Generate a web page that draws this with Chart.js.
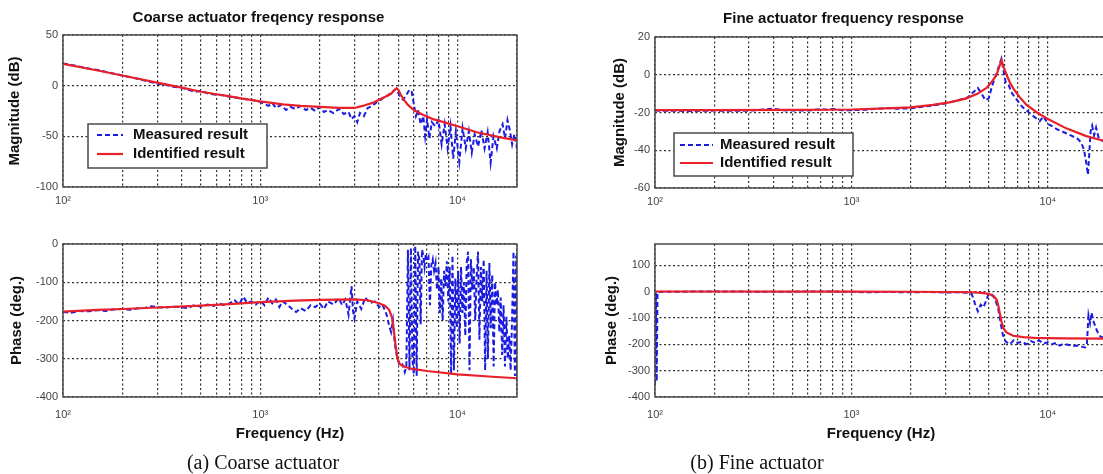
<!DOCTYPE html>
<html lang="en">
<head>
<meta charset="utf-8">
<title>Actuator frequency response</title>
<script src="https://cdn.jsdelivr.net/npm/chart.js@4.4.1/dist/chart.umd.min.js"></script>
<style>
    html, body { margin: 0; padding: 0; overflow: hidden; background: #fff; }
    body { position: relative; width: 1103px; height: 474px; }
    canvas { position: absolute; }
    .caption {
        position: absolute; top: 450px;
        font-family: "Liberation Serif", "Times New Roman", serif;
        font-size: 20px; line-height: 24px; color: #111;
        white-space: nowrap; transform: translateX(-50%);
    }
</style>
</head>
<body>
<canvas id="coarseMag" width="580" height="215" style="left:0;top:0"></canvas>
<canvas id="coarsePhase" width="580" height="240" style="left:0;top:215px"></canvas>
<canvas id="fineMag" width="602" height="215" style="left:580px;top:0"></canvas>
<canvas id="finePhase" width="602" height="240" style="left:580px;top:215px"></canvas>
<div class="caption" style="left:263px">(a) Coarse actuator</div>
<div class="caption" style="left:757px">(b) Fine actuator</div>

<script>
// data ----------------------------------------------------------------------

const freqGrid = [100, 200, 300, 400, 500, 600, 700, 800, 900, 1000, 2000, 3000, 4000, 5000, 6000, 7000, 8000, 9000, 10000, 20000];
const decadeTicks = [100, 1000, 10000];
const decadeLabels = ['10²', '10³', '10⁴'];

const magCoarseTicks = [-100, -50, 0, 50];
const phaseCoarseTicks = [-400, -300, -200, -100, 0];
const magFineTicks = [-60, -40, -20, 0, 20];
const phaseFineTicks = [-400, -300, -200, -100, 0, 100];

// coarse actuator, magnitude
const coarseMagMeasHz = [100, 110, 120, 135, 150, 170, 200, 230, 260, 300,
    330, 360, 400, 430, 470, 500, 550, 600, 650, 700,
    760, 820, 900, 1000, 1050, 1100, 1150, 1200, 1270, 1350,
    1420, 1500, 1600, 1700, 1800, 1900, 2000, 2100, 2200, 2350,
    2500, 2650, 2800, 2900, 3000, 3100, 3200, 3350, 3500, 3700,
    3850, 4000, 4200, 4400, 4600, 4800, 4900, 5000, 5150, 5300,
    5500, 5700, 5850, 6000, 6150, 6300, 6500, 6700, 6850, 7000,
    7200, 7400, 7700, 8000, 8300, 8600, 8900, 9200, 9500, 9800,
    10200, 10600, 11000, 11400, 11800, 12200, 12700, 13200, 13700, 14200,
    14700, 15200, 15800, 16300, 16900, 17400, 17900, 18400, 18900, 19400,
    20000];
const coarseMagMeasDb = [22, 20.5, 19, 17, 15.5, 13, 10, 7.5, 5, 2,
    1, -1, -2, -4, -6, -5, -8, -9, -9.5, -11,
    -12, -13, -14, -16, -18, -20, -17, -22, -19, -24,
    -21, -23, -20, -24, -22, -25, -21, -26, -24, -27,
    -23, -28, -26, -33, -30, -36, -27, -30, -22, -20,
    -17, -15, -12, -10, -7, -4, -3, -7, -12, -14,
    -9, -4, -6, -18, -30, -24, -38, -30, -50, -33,
    -52, -36, -40, -34, -58, -38, -62, -40, -72, -45,
    -75, -42, -62, -45, -66, -48, -60, -44, -62, -46,
    -76, -50, -62, -45, -38, -52, -34, -44, -58, -48,
    -62];
const coarseMagIdHz = [100, 150, 200, 300, 400, 500, 600, 700, 800, 1000,
    1300, 1600, 2000, 2500, 3000, 3300, 3700, 4000, 4300, 4600,
    4800, 4900, 5000, 5150, 5350, 5600, 6000, 6700, 7500, 8500,
    10000, 12500, 16500, 20000];
const coarseMagIdDb = [21.5, 15, 10, 3, -2, -6, -8.5, -10.5, -12.5, -15.5,
    -18.5, -20, -21, -22, -22, -20, -17, -14, -11, -8,
    -4, -2.5, -4, -9, -14, -19, -24, -29, -33, -36,
    -40, -46, -51, -54];

// coarse actuator, phase
const coarsePhMeasHz = [100, 110, 120, 135, 150, 165, 180, 200, 220, 240,
    260, 280, 300, 330, 360, 400, 430, 460, 500, 540,
    580, 620, 660, 700, 740, 780, 820, 860, 900, 950,
    1000, 1050, 1100, 1150, 1200, 1250, 1300, 1380, 1450, 1520,
    1600, 1700, 1800, 1900, 2000, 2100, 2200, 2350, 2500, 2600,
    2700, 2800, 2900, 2950, 3000, 3100, 3250, 3400, 3600, 3800,
    4000, 4150, 4300, 4400, 4500, 4600, 4700, 4800, 4950, 5100,
    5250, 5400, 5500, 5600, 5700, 5800, 5900, 6000, 6100, 6200,
    6300, 6400, 6500, 6600, 6700, 6800, 6900, 7000, 7120, 7240,
    7360, 7480, 7600, 7730, 7860, 8000, 8130, 8260, 8400, 8540,
    8680, 8820, 8970, 9120, 9270, 9420, 9580, 9740, 9900, 10070,
    10240, 10410, 10580, 10760, 10940, 11120, 11300, 11490, 11680, 11880,
    12080, 12280, 12480, 12690, 12900, 13120, 13340, 13560, 13790, 14020,
    14250, 14490, 14730, 14980, 15230, 15480, 15740, 16000, 16270, 16540,
    16820, 17100, 17380, 17670, 17970, 18270, 18570, 18880, 19200, 19520,
    19800, 20000];
const coarsePhMeasDeg = [-178, -180, -175, -176, -173, -175, -171, -170, -172, -168,
    -167, -163, -165, -166, -164, -165, -168, -160, -164, -158,
    -162, -156, -160, -155, -147, -158, -138, -155, -150, -158,
    -148, -160, -140, -155, -145, -165, -150, -160, -170, -178,
    -168, -175, -160, -165, -155, -170, -150, -158, -142, -160,
    -145, -185, -110, -175, -195, -150, -170, -140, -155, -150,
    -165, -158, -175, -190, -215, -230, -200, -260, -300, -320,
    -315, -335, -320, -15, -330, -10, -300, -340, -5, -345,
    -20, -40, -210, -15, -30, -60, -25, -45, -35, -160,
    -55, -40, -70, -50, -120, -60, -180, -90, -200, -70,
    -110, -45, -150, -60, -340, -30, -330, -90, -220, -70,
    -260, -60, -180, -100, -240, -50, -20, -330, -40, -120,
    -60, -200, -90, -20, -250, -60, -150, -40, -330, -70,
    -300, -50, -220, -80, -320, -100, -160, -120, -230, -140,
    -290, -160, -320, -190, -300, -240, -330, -200, -20, -345,
    -30, -340];
const coarsePhIdHz = [100, 150, 200, 300, 500, 700, 1000, 1500, 2000, 3000,
    3500, 4000, 4300, 4500, 4650, 4750, 4850, 4950, 5100, 5400,
    5800, 7000, 10000, 15000, 20000];
const coarsePhIdDeg = [-177, -172, -170, -166, -161, -157, -152, -148, -146, -145,
    -147, -155, -162, -172, -192, -225, -265, -298, -314, -321,
    -326, -332, -341, -347, -351];

// fine actuator, magnitude
const fineMagMeasHz = [100, 150, 200, 300, 400, 450, 500, 600, 700, 750,
    800, 900, 1000, 1200, 1500, 1700, 2000, 2500, 3000, 3500,
    3900, 4200, 4400, 4600, 4800, 5000, 5200, 5450, 5650, 5800,
    5950, 6100, 6300, 6500, 6800, 7100, 7400, 7800, 8200, 8700,
    9100, 9500, 10000, 10600, 11200, 11800, 12400, 13000, 13600, 14200,
    14800, 15300, 15700, 16000, 16200, 16500, 16800, 17200, 17600, 18200,
    19000, 20000];
const fineMagMeasDb = [-19, -19.2, -19, -19.1, -18, -18.8, -19, -19, -18.2, -18.6,
    -18.1, -18.8, -18.8, -18.5, -17.6, -18, -17.8, -16.5, -15.2, -13.5,
    -12, -9, -7, -10, -13.5, -12.5, -6, 0, 5, 8.5,
    2, -4, -5, -9, -12, -14.5, -17, -19, -21, -23,
    -24.5, -22, -26, -27.5, -29, -30, -31, -32, -33, -34,
    -36, -40, -47, -53, -44, -30, -27, -32, -28, -34,
    -35, -37];
const fineMagIdHz = [100, 200, 500, 1000, 1500, 2000, 2600, 3200, 3850, 4400,
    4870, 5200, 5480, 5650, 5810, 5950, 6160, 6400, 6660, 7200,
    7790, 8800, 9850, 12400, 15700, 19000, 20000];
const fineMagIdDb = [-18.7, -18.7, -18.6, -18.4, -17.8, -17.3, -16, -14.5, -12.5, -10,
    -7, -3.5, 0, 4, 7.7, 4, 0, -4, -7.2, -12,
    -16, -20, -23, -28.4, -32.5, -34.8, -35.5];

// fine actuator, phase
const finePhMeasHz = [100, 101, 102, 103, 110, 200, 400, 700, 1000, 1200,
    1500, 2000, 2500, 3000, 3500, 3900, 4100, 4250, 4400, 4550,
    4700, 4850, 5000, 5200, 5400, 5600, 5750, 5900, 6100, 6400,
    6700, 7000, 7400, 7800, 8200, 8600, 9000, 9500, 10000, 10500,
    11000, 11500, 12000, 12800, 13500, 14200, 15000, 15500, 15800, 16100,
    16400, 16700, 17000, 17400, 17800, 18500, 19200, 20000];
const finePhMeasDeg = [-355, -3, -340, -2, -1, 0, -1, 0, -1, -3,
    -2, -3, -2, -4, -3, -5, -10, -45, -75, -50,
    -60, -35, -8, -12, -30, -70, -120, -165, -190, -200,
    -185, -195, -190, -200, -188, -195, -185, -198, -192, -200,
    -195, -205, -198, -203, -207, -205, -210, -212, -200, -90,
    -120, -80, -110, -130, -150, -170, -175, -180];
const finePhIdHz = [100, 1000, 2000, 3000, 4000, 4600, 5000, 5300, 5480, 5600,
    5700, 5810, 5950, 6160, 6660, 7500, 8530, 12000, 20000];
const finePhIdDeg = [0, -0.5, -1, -2, -3, -5, -9, -18, -30, -55,
    -85, -115, -140, -155, -168, -173, -176, -178, -179];

// data END ==================================================================


Chart.defaults.font.family = '"Liberation Sans", Arial, Helvetica, sans-serif';
Chart.defaults.color = '#444';

const gridColor = '#303030';
const labelFont = { size: 15, weight: 'bold' };


function toPoints(hz, values) {
    return hz.map((f, i) => ({ x: f, y: values[i] }));
}


function decadeLabel(value) {
    let i = decadeTicks.indexOf(value);
    return i >= 0 ? decadeLabels[i] : '';
}


// plugins: box round the axes and the matlab style legend -------------------

const axesFrame = {
    id: 'axesFrame',
    afterDatasetsDraw(chart) {
        let { ctx, chartArea: a } = chart;
        ctx.save();
        ctx.setLineDash([]);
        ctx.strokeStyle = '#4a4a4a';
        ctx.lineWidth = 1.5;
        ctx.strokeRect(a.left, a.top, a.right - a.left, a.bottom - a.top);
        ctx.restore();
    }
};

const boxLegend = {
    id: 'boxLegend',
    afterDatasetsDraw(chart, args, opts) {
        if (!opts || !opts.show) return;
        let { ctx, chartArea } = chart;
        let x = chartArea.left + opts.dx;
        let y = chartArea.top + opts.dy;
        ctx.save();
        ctx.fillStyle = '#fff';
        ctx.fillRect(x, y, opts.w, opts.h);
        ctx.strokeStyle = '#4a4a4a';
        ctx.lineWidth = 1.5;
        ctx.strokeRect(x, y, opts.w, opts.h);
        chart.data.datasets.forEach((ds, i) => {
            let ly = y + opts.rowTop + i * opts.rowGap;
            ctx.strokeStyle = ds.borderColor;
            ctx.lineWidth = ds.borderWidth;
            ctx.setLineDash(ds.borderDash || []);
            ctx.beginPath();
            ctx.moveTo(x + opts.lineX, ly);
            ctx.lineTo(x + opts.lineX + opts.lineLen, ly);
            ctx.stroke();
            ctx.setLineDash([]);
            ctx.fillStyle = '#111';
            ctx.font = 'bold 15px "Liberation Sans", Arial, sans-serif';
            ctx.textBaseline = 'middle';
            ctx.fillText(ds.label, x + opts.textX, ly);
        });
        ctx.restore();
    }
};


// one bode panel --------------------------------------------------------------

function bodePlot(canvasId, p) {
    return new Chart(document.getElementById(canvasId), {
        type: 'line',
        data: {
            datasets: [{
                label: 'Measured result',
                data: toPoints(p.measHz, p.meas),
                borderColor: '#1c1ce0',
                borderWidth: 2,
                borderDash: [5, 3],
                order: 1
            }, {
                label: 'Identified result',
                data: toPoints(p.idHz, p.id),
                borderColor: '#e8202a',
                borderWidth: 2.2,
                order: 0
            }]
        },
        options: {
            responsive: false,
            animation: false,
            events: [],
            layout: { padding: { top: p.padTop, right: p.padRight, left: 0, bottom: 0 } },
            elements: { point: { radius: 0 }, line: { tension: 0, fill: false } },
            plugins: {
                legend: { display: false },
                tooltip: { enabled: false },
                title: {
                    display: !!p.title,
                    text: p.title || '',
                    color: '#111',
                    font: { size: 15, weight: 'bold', lineHeight: 1 },
                    padding: { top: p.titleTop || 0, bottom: p.titleBottom || 0 }
                },
                boxLegend: p.legend || { show: false }
            },
            scales: {
                x: {
                    type: 'logarithmic',
                    min: 100,
                    max: 20000,
                    bounds: 'data',
                    afterBuildTicks: (scale) => { scale.ticks = freqGrid.map(v => ({ value: v })); },
                    afterFit: (scale) => { scale.height = p.xHeight; },
                    grid: { color: gridColor, lineWidth: 1.2, drawTicks: false },
                    border: { display: false, dash: [2, 2.5] },
                    ticks: {
                        autoSkip: false, maxRotation: 0, padding: p.xPad,
                        color: '#444', font: { size: 11 },
                        callback: (v) => decadeLabel(v)
                    },
                    title: {
                        display: !!p.xTitle, text: p.xTitle || '', color: '#111',
                        font: labelFont, padding: { top: 0, bottom: 12 }
                    }
                },
                y: {
                    min: p.yMin,
                    max: p.yMax,
                    bounds: 'data',
                    afterBuildTicks: (scale) => { scale.ticks = p.yTicks.map(v => ({ value: v })); },
                    afterFit: (scale) => { scale.width = p.yWidth; },
                    grid: { color: gridColor, lineWidth: 1.2, drawTicks: false },
                    border: { display: false, dash: [2, 2.5] },
                    ticks: { padding: 5, color: '#444', font: { size: 11 }, callback: (v) => String(v) },
                    title: {
                        display: true, text: p.yLabel, color: '#111',
                        font: labelFont, padding: { top: p.yTitlePad, bottom: 0 }
                    }
                }
            }
        },
        plugins: [axesFrame, boxLegend]
    });
}


// the four panels -------------------------------------------------------------

bodePlot('coarseMag', {
    measHz: coarseMagMeasHz, meas: coarseMagMeasDb, idHz: coarseMagIdHz, id: coarseMagIdDb,
    title: 'Coarse actuator freqency response', titleTop: 10, titleBottom: 10,
    padTop: 0, padRight: 63, yWidth: 63, xHeight: 28, xPad: 7,
    yMin: -100, yMax: 50, yTicks: magCoarseTicks, yLabel: 'Magnitude (dB)', yTitlePad: 6,
    legend: { show: true, dx: 25, dy: 89, w: 179, h: 44, rowTop: 11, rowGap: 19, lineX: 9, lineLen: 26, textX: 45 }
});

bodePlot('coarsePhase', {
    measHz: coarsePhMeasHz, meas: coarsePhMeasDeg, idHz: coarsePhIdHz, id: coarsePhIdDeg,
    padTop: 29, padRight: 63, yWidth: 63, xHeight: 58, xPad: 11, xTitle: 'Frequency (Hz)',
    yMin: -400, yMax: 0, yTicks: phaseCoarseTicks, yLabel: 'Phase (deg.)', yTitlePad: 8
});

bodePlot('fineMag', {
    measHz: fineMagMeasHz, meas: fineMagMeasDb, idHz: fineMagIdHz, id: fineMagIdDb,
    title: 'Fine actuator frequency response', titleTop: 11, titleBottom: 11,
    padTop: 0, padRight: 75, yWidth: 75, xHeight: 27, xPad: 7,
    yMin: -60, yMax: 20, yTicks: magFineTicks, yLabel: 'Magnitude (dB)', yTitlePad: 31,
    legend: { show: true, dx: 19, dy: 96, w: 179, h: 43, rowTop: 12, rowGap: 18, lineX: 6, lineLen: 33, textX: 46 }
});

bodePlot('finePhase', {
    measHz: finePhMeasHz, meas: finePhMeasDeg, idHz: finePhIdHz, id: finePhIdDeg,
    padTop: 29, padRight: 75, yWidth: 75, xHeight: 58, xPad: 11, xTitle: 'Frequency (Hz)',
    yMin: -400, yMax: 180, yTicks: phaseFineTicks, yLabel: 'Phase (deg.)', yTitlePad: 23
});
</script>
</body>
</html>
